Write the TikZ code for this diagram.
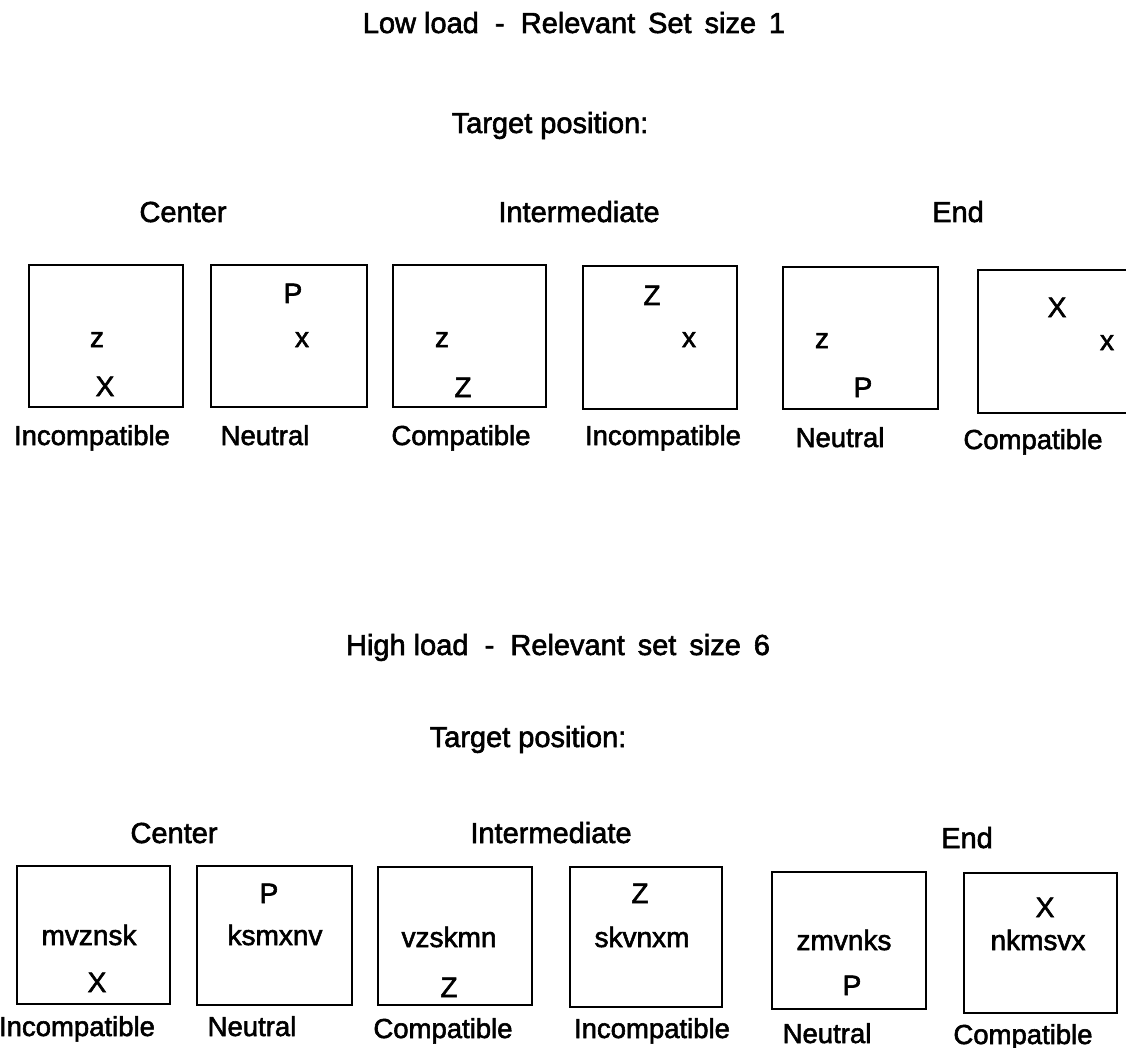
\documentclass[tikz,border=0pt]{standalone}
\usepackage{fontspec}
\setmainfont{Liberation Sans}[FakeBold=2]
\begin{document}
\begin{tikzpicture}[x=1pt,y=-1pt,
  box/.style={draw=black, line width=2.6pt, inner sep=0pt, outer sep=0pt, minimum width=154pt, minimum height=140pt},
  hdr/.style={anchor=base, inner sep=0pt, font=\fontsize{29}{34}\selectfont},
  lbl/.style={anchor=base, inner sep=0pt, font=\fontsize{27.5}{32}\selectfont},
  ltr/.style={anchor=base, inner sep=0pt, font=\fontsize{28}{32}\selectfont}]
\useasboundingbox (0,0) rectangle (1126,1048);
\clip (0,0) rectangle (1126,1048);
\fill[white] (0,0) rectangle (1126,1048);

% ---------- Low load ----------
\node[hdr] (t1) at (574,33) {Low load \ - \ Relevant \,Set \,size \,1};
\node[hdr] (tp1) at (550,133) {Target position:};
\node[hdr] (ce1) at (183,222) {Center};
\node[hdr] (in1) at (579,222) {Intermediate};
\node[hdr] (en1) at (958,222) {End};

\node[box, minimum width=154pt, minimum height=142pt] (a1) at (106,336) {};
\node[box, minimum width=156pt, minimum height=142pt] (a2) at (289,336) {};
\node[box, minimum width=153pt, minimum height=142pt] (a3) at (469.5,336) {};
\node[box, minimum width=154pt, minimum height=143pt] (a4) at (660,337.5) {};
\node[box, minimum width=155pt, minimum height=142pt] (a5) at (860.5,338) {};
\node[box, minimum width=154pt, minimum height=143pt] (a6) at (1055,341.5) {};

\node[ltr] (a1u) at (97,347) {z};
\node[ltr] (a1l) at (105,396) {X};
\node[ltr] (a2u) at (293,303) {P};
\node[ltr] (a2l) at (302,347) {x};
\node[ltr] (a3u) at (442,347) {z};
\node[ltr] (a3l) at (463,397) {Z};
\node[ltr] (a4u) at (652,305) {Z};
\node[ltr] (a4l) at (689,347) {x};
\node[ltr] (a5u) at (822,348) {z};
\node[ltr] (a5l) at (863,397) {P};
\node[ltr] (a6u) at (1057,317) {X};
\node[ltr] (a6l) at (1107,350) {x};

\node[lbl] (la1) at (92,445) {Incompatible};
\node[lbl] (la2) at (265,445) {Neutral};
\node[lbl] (la3) at (461,445) {Compatible};
\node[lbl] (la4) at (663,445) {Incompatible};
\node[lbl] (la5) at (840,447) {Neutral};
\node[lbl] (la6) at (1033,449) {Compatible};

% ---------- High load ----------
\node[hdr] (t2) at (558,655) {High load \ - \ Relevant \,set \,size \,6};
\node[hdr] (tp2) at (528,747) {Target position:};
\node[hdr] (ce2) at (174,843) {Center};
\node[hdr] (in2) at (551,843) {Intermediate};
\node[hdr] (en2) at (967,848) {End};

\node[box, minimum width=153pt, minimum height=138pt] (c1) at (93.5,935) {};
\node[box, minimum width=155pt, minimum height=139pt] (c2) at (274.5,935.5) {};
\node[box, minimum width=154pt, minimum height=138pt] (c3) at (455,936) {};
\node[box, minimum width=152pt, minimum height=140pt] (c4) at (646,937) {};
\node[box, minimum width=154pt, minimum height=137pt] (c5) at (849,940.5) {};
\node[box, minimum width=153pt, minimum height=140pt] (c6) at (1040.5,943) {};

\node[ltr] (c1u) at (89,945) {mvznsk};
\node[ltr] (c1l) at (97,992) {X};
\node[ltr] (c2u) at (269,903) {P};
\node[ltr] (c2l) at (275,945) {ksmxnv};
\node[ltr] (c3u) at (449,947) {vzskmn};
\node[ltr] (c3l) at (449,997) {Z};
\node[ltr] (c4u) at (640,903) {Z};
\node[ltr] (c4l) at (642,947) {skvnxm};
\node[ltr] (c5u) at (844,950) {zmvnks};
\node[ltr] (c5l) at (852,995) {P};
\node[ltr] (c6u) at (1045,917) {X};
\node[ltr] (c6l) at (1038,950) {nkmsvx};

\node[lbl] (lc1) at (77,1036) {Incompatible};
\node[lbl] (lc2) at (252,1036) {Neutral};
\node[lbl] (lc3) at (443,1038) {Compatible};
\node[lbl] (lc4) at (652,1038) {Incompatible};
\node[lbl] (lc5) at (827,1043) {Neutral};
\node[lbl] (lc6) at (1023,1044) {Compatible};
\end{tikzpicture}
\end{document}
